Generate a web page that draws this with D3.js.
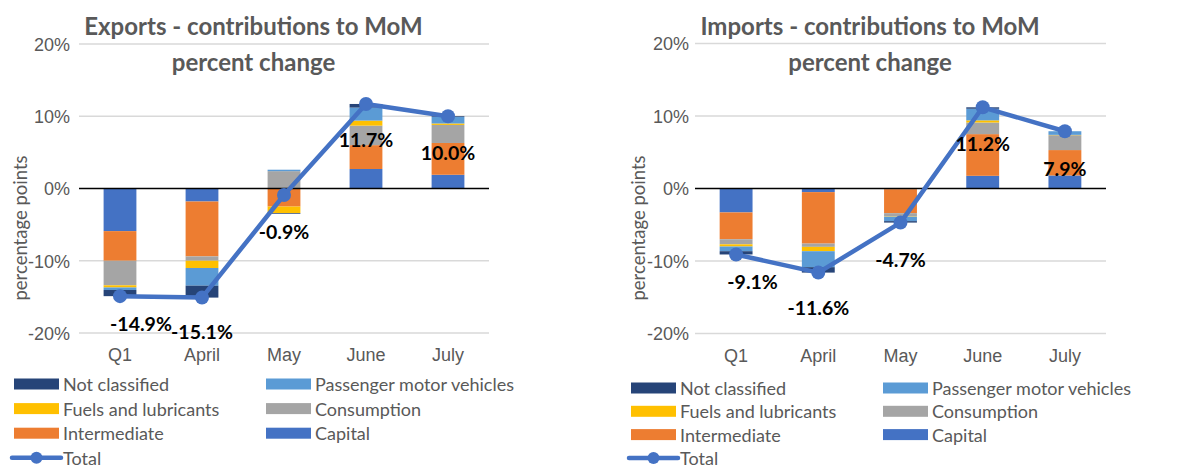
<!DOCTYPE html>
<html>
<head>
<meta charset="utf-8">
<script src="https://cdn.jsdelivr.net/npm/d3@7"></script>
<style>
  body { margin: 0; background: #fff; }
  svg { font-family: Lato, "Noto Sans", sans-serif; }
  .tick text { fill: #595959; }
</style>
</head>
<body>
<svg width="1203" height="469"></svg>
<script>
// categories and series
var months = ['Q1', 'April', 'May', 'June', 'July'];
var seriesNames = ['Capital', 'Intermediate', 'Consumption', 'Fuels and lubricants', 'Passenger motor vehicles', 'Not classified'];
var seriesColors = ['#4472C4', '#ED7D31', '#A5A5A5', '#FFC000', '#5B9BD5', '#264478'];
var yTicks = [-20, -10, 0, 10, 20];

// exports, percentage points
var expCapital = [-5.9, -1.8, 0, 2.7, 1.9];
var expIntermediate = [-4.1, -7.6, -2.5, 3.3, 4.4];
var expConsumption = [-3.4, -0.6, 2.4, 2.7, 2.5];
var expFuels = [-0.3, -1.0, -0.9, 0.7, 0.2];
var expPassenger = [-0.35, -2.45, 0.2, 1.8, 0.9];
var expNotClassified = [-0.85, -1.65, -0.1, 0.5, 0.1];
var expTotal = [-14.9, -15.1, -0.9, 11.7, 10.0];

// imports, percentage points
var impCapital = [-3.3, -0.5, -0.1, 1.75, 1.8];
var impIntermediate = [-3.7, -7.1, -3.3, 5.75, 3.5];
var impConsumption = [-0.7, -0.45, -0.45, 1.6, 2.05];
var impFuels = [-0.3, -0.6, -0.05, 0.3, 0.05];
var impPassenger = [-0.65, -2.2, -0.6, 1.6, 0.5];
var impNotClassified = [-0.45, -0.75, -0.2, 0.2, 0];
var impTotal = [-9.1, -11.6, -4.7, 11.2, 7.9];

// legend layout (Excel order, two columns)
var legendOrder = ['Not classified', 'Passenger motor vehicles', 'Fuels and lubricants', 'Consumption', 'Intermediate', 'Capital'];

var svg = d3.select('svg');

drawChart({
    left: 79, right: 489, top: 44, bottom: 333,
    title: ['Exports - contributions to MoM', 'percent change'], titleX: 253.5,
    tickX: 70, axisTitleX: 20,
    series: [expCapital, expIntermediate, expConsumption, expFuels, expPassenger, expNotClassified],
    total: expTotal,
    labelShift: [[21, 27], [0, 34], [0, 36], [0, 36], [0, 36]],
    legend: {x: 14, x2: 266, y: 384, step: 24.6}
});

drawChart({
    left: 695, right: 1106, top: 43.5, bottom: 333.5,
    title: ['Imports - contributions to MoM', 'percent change'], titleX: 870,
    tickX: 689, axisTitleX: 638,
    series: [impCapital, impIntermediate, impConsumption, impFuels, impPassenger, impNotClassified],
    total: impTotal,
    labelShift: [[16.5, 27], [0, 35], [0, 37], [0, 36], [0, 37]],
    legend: {x: 631, x2: 883, y: 388, step: 23.3}
});

function drawChart(cfg) {
    var g = svg.append('g');
    var x = d3.scaleBand().domain(months).range([cfg.left, cfg.right]).paddingInner(0.6).paddingOuter(0.3);
    var y = d3.scaleLinear().domain([-20, 20]).range([cfg.bottom, cfg.top]);

    // grid
    g.append('g').selectAll('line').data(yTicks.filter(function(d) { return d !== 0; })).enter().append('line')
        .attr('x1', cfg.left).attr('x2', cfg.right)
        .attr('y1', function(d) { return y(d); }).attr('y2', function(d) { return y(d); })
        .attr('stroke', '#D9D9D9').attr('stroke-width', 1.3);

    // y tick labels
    var yAxis = g.append('g').attr('transform', 'translate(' + cfg.tickX + ',0)')
        .call(d3.axisLeft(y).tickValues(yTicks).tickSize(0).tickPadding(0).tickFormat(function(d) { return d + '%'; }));
    yAxis.select('.domain').remove();
    yAxis.selectAll('text').style('font-size', '18px').attr('dy', '0.35em');

    g.append('text')
        .attr('transform', 'translate(' + cfg.axisTitleX + ',' + 228 + ') rotate(-90)')
        .attr('text-anchor', 'middle').attr('dominant-baseline', 'central')
        .style('font-size', '18.5px').style('fill', '#595959')
        .text('percentage points');

    // stacked bars
    var rows = months.map(function(m, i) {
        var r = {month: m};
        seriesNames.forEach(function(s, j) { r[s] = cfg.series[j][i]; });
        return r;
    });
    var stacked = d3.stack().keys(seriesNames).offset(d3.stackOffsetDiverging)(rows);
    g.append('g').selectAll('g').data(stacked).enter().append('g')
        .attr('fill', function(d, i) { return seriesColors[i]; })
        .selectAll('rect').data(function(d) { return d; }).enter().append('rect')
        .attr('x', function(d) { return x(d.data.month); })
        .attr('width', x.bandwidth())
        .attr('y', function(d) { return y(Math.max(d[0], d[1])); })
        .attr('height', function(d) { return Math.abs(y(d[0]) - y(d[1])); });

    // zero line
    g.append('line').attr('x1', cfg.left).attr('x2', cfg.right)
        .attr('y1', y(0)).attr('y2', y(0)).attr('stroke', '#000').attr('stroke-width', 1.5);

    // category labels
    var xAxis = g.append('g').attr('transform', 'translate(0,' + (cfg.bottom + 22) + ')')
        .call(d3.axisBottom(x).tickSize(0).tickPadding(0));
    xAxis.select('.domain').remove();
    xAxis.selectAll('text').style('font-size', '18px').attr('dy', '0.35em');

    // total line
    var line = d3.line().x(function(d, i) { return x(months[i]) + x.bandwidth() / 2; }).y(function(d) { return y(d); });
    g.append('path').datum(cfg.total).attr('d', line)
        .attr('fill', 'none').attr('stroke', '#4472C4').attr('stroke-width', 4.5).attr('stroke-linejoin', 'round');
    g.append('g').selectAll('circle').data(cfg.total).enter().append('circle')
        .attr('cx', function(d, i) { return x(months[i]) + x.bandwidth() / 2; })
        .attr('cy', function(d) { return y(d); })
        .attr('r', 7).attr('fill', '#4472C4');

    // data labels
    g.append('g').selectAll('text').data(cfg.total).enter().append('text')
        .attr('x', function(d, i) { return x(months[i]) + x.bandwidth() / 2 + cfg.labelShift[i][0]; })
        .attr('y', function(d, i) { return y(d) + cfg.labelShift[i][1]; })
        .attr('text-anchor', 'middle').attr('dominant-baseline', 'central')
        .style('font-size', '19.5px').style('font-weight', 'bold').style('fill', '#000')
        .text(function(d) { return d.toFixed(1) + '%'; });

    // title
    g.append('g').selectAll('text').data(cfg.title).enter().append('text')
        .attr('x', cfg.titleX).attr('y', function(d, i) { return 35 + i * 36; })
        .attr('text-anchor', 'middle')
        .style('font-size', '24px').style('font-weight', 'bold').style('fill', '#595959')
        .text(function(d) { return d; });

    // legend
    var lg = g.append('g');
    legendOrder.forEach(function(name, i) {
        var col = i % 2, row = Math.floor(i / 2);
        var lx = col === 0 ? cfg.legend.x : cfg.legend.x2;
        var ly = cfg.legend.y + row * cfg.legend.step;
        lg.append('rect').attr('x', lx).attr('y', ly - 5.5).attr('width', 45).attr('height', 11)
            .attr('fill', seriesColors[seriesNames.indexOf(name)]);
        lg.append('text').attr('x', lx + 49).attr('y', ly).attr('dominant-baseline', 'central')
            .style('font-size', '18px').style('fill', '#595959').text(name);
    });
    var ty = cfg.legend.y + 3 * cfg.legend.step;
    lg.append('line').attr('x1', cfg.legend.x - 2).attr('x2', cfg.legend.x + 47)
        .attr('y1', ty).attr('y2', ty).attr('stroke', '#4472C4').attr('stroke-width', 4.5).attr('stroke-linecap', 'round');
    lg.append('circle').attr('cx', cfg.legend.x + 22.5).attr('cy', ty).attr('r', 6).attr('fill', '#4472C4');
    lg.append('text').attr('x', cfg.legend.x + 49).attr('y', ty).attr('dominant-baseline', 'central')
        .style('font-size', '18px').style('fill', '#595959').text('Total');
}
</script>
</body>
</html>
